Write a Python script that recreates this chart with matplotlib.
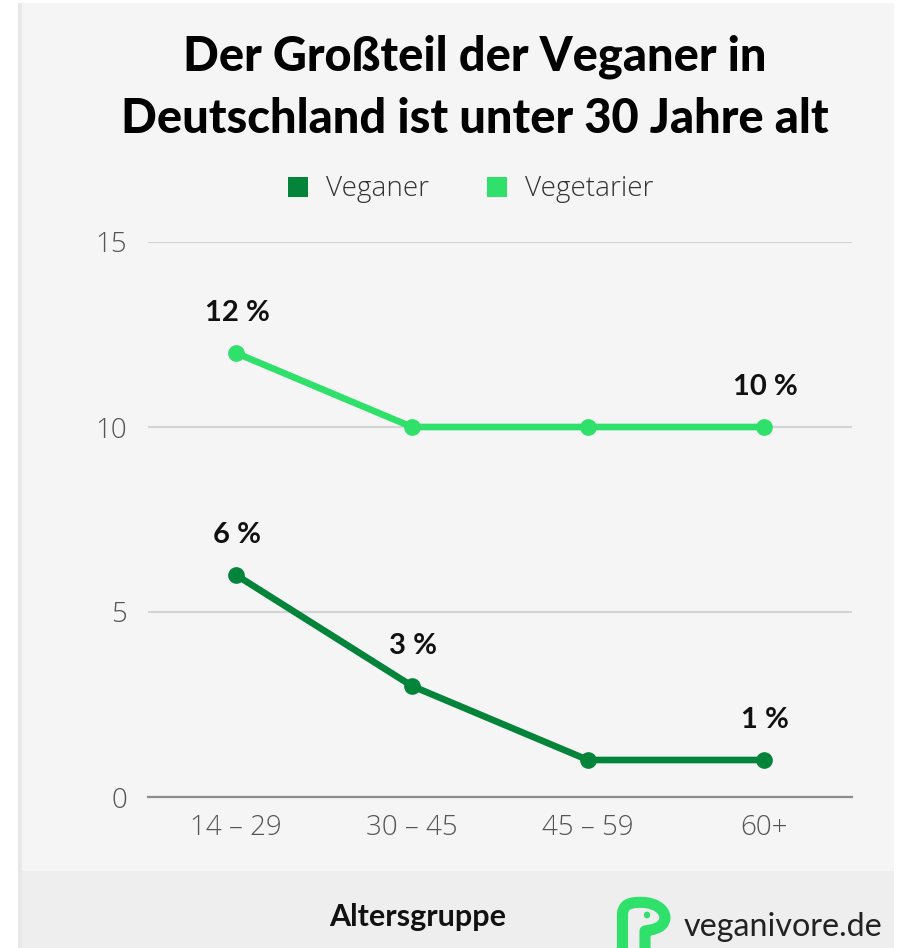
import matplotlib
matplotlib.use("Agg")
import matplotlib.pyplot as plt
from matplotlib.patches import Rectangle, Circle, PathPatch
from matplotlib.path import Path

W, H = 902, 948

age_groups = ["14 – 29", "30 – 45", "45 – 59", "60+"]
veganer = [6, 3, 1, 1]
vegetarier = [12, 10, 10, 10]
yticks = [0, 5, 10, 15]
veganer_labels = ["6 %", "3 %", None, "1 %"]
vegetarier_labels = ["12 %", None, None, "10 %"]

DARK = "#04843b"
LIGHT = "#2fe06a"


def fx(px):
    return px / W


def fy(py):
    return 1 - py / H


fig = plt.figure(figsize=(W / 100, H / 100), dpi=100, facecolor="white")

# panel background
for x0, y0, x1, y1, col in [
    (18, 3, 22, 948, "#e8e8e8"),
    (22, 3, 894, 871, "#f5f5f5"),
    (22, 871, 894, 948, "#eeeeee"),
]:
    fig.add_artist(Rectangle((fx(x0), fy(y1)), (x1 - x0) / W, (y1 - y0) / H,
                             transform=fig.transFigure, fc=col, ec="none", zorder=-5))

ax = fig.add_axes([fx(148), fy(797), 704 / W, 555 / H])
ax.patch.set_alpha(0)
x = list(range(len(age_groups)))
ax.set_xlim(-0.5, 3.5)
ax.set_ylim(0, 15)

ax.plot(x, vegetarier, color=LIGHT, lw=4.8, marker="o", ms=11, clip_on=False, zorder=3)
ax.plot(x, veganer, color=DARK, lw=4.8, marker="o", ms=11, clip_on=False, zorder=3)

for series, labels in [(vegetarier, vegetarier_labels), (veganer, veganer_labels)]:
    for i, lab in enumerate(labels):
        if lab:
            ax.annotate(lab, (x[i], series[i]), xytext=(1, 29), textcoords="offset points",
                        ha="center", va="center", fontsize=21, fontweight="bold",
                        family="Lato", color="#111111")

ax.set_xticks(x, age_groups)
ax.set_yticks(yticks)
ax.grid(axis="y", color="#d4d4d4", lw=1.6, zorder=0)
ax.set_axisbelow(True)
for s in ["top", "right", "left"]:
    ax.spines[s].set_visible(False)
ax.spines["bottom"].set_color("#8c8c8c")
ax.spines["bottom"].set_linewidth(1.6)
ax.tick_params(axis="x", length=0, pad=12, labelsize=20, labelcolor="#555555")
ax.tick_params(axis="y", length=0, pad=15, labelsize=20, labelcolor="#555555")
for t in ax.get_xticklabels() + ax.get_yticklabels():
    t.set_family("Open Sans")
    t.set_fontweight("light")

# title
fig.text(fx(474.5), fy(57), "Der Großteil der Veganer in", ha="center", va="center",
         fontsize=33.8, fontweight=900, family="Lato", color="black")
fig.text(fx(474.5), fy(119), "Deutschland ist unter 30 Jahre alt", ha="center", va="center",
         fontsize=33.8, fontweight=900, family="Lato", color="black")

# legend
for px, col, name in [(288, DARK, "Veganer"), (487, LIGHT, "Vegetarier")]:
    fig.add_artist(Rectangle((fx(px), fy(197)), 20 / W, 20 / H, transform=fig.transFigure,
                             fc=col, ec="none"))
    fig.text(fx(px + 38), fy(189), name, ha="left", va="center", fontsize=20.1,
             family="Open Sans", fontweight="light", color="#333333")

fig.text(fx(417.5), fy(917), "Altersgruppe", ha="center", va="center", fontsize=22,
         fontweight="bold", family="Lato", color="#111111")

# logo
logo = [(622.5, 948), (622.5, 915), (622.5, 902.5), (637, 902.5), (652, 901), (665, 908), (665, 918),
        (664, 929), (650, 930), (645, 931), (645, 938), (645, 948)]
codes = [Path.MOVETO, Path.LINETO, Path.CURVE3, Path.CURVE3, Path.CURVE4, Path.CURVE4, Path.CURVE4,
         Path.CURVE4, Path.CURVE4, Path.CURVE3, Path.CURVE3, Path.LINETO]
fig.add_artist(PathPatch(Path([(fx(a), fy(b)) for a, b in logo], codes), transform=fig.transFigure,
                         fc="none", ec=LIGHT, lw=8, capstyle="butt", joinstyle="round"))
fig.add_artist(Circle((fx(647), fy(915)), 3.2 / W, transform=fig.transFigure, fc=LIGHT, ec="none"))
fig.text(fx(684), fy(927), "veganivore.de", ha="left", va="center", fontsize=23.2,
         family="Lato", color="#222222")

fig.savefig("out.png", dpi=100)
